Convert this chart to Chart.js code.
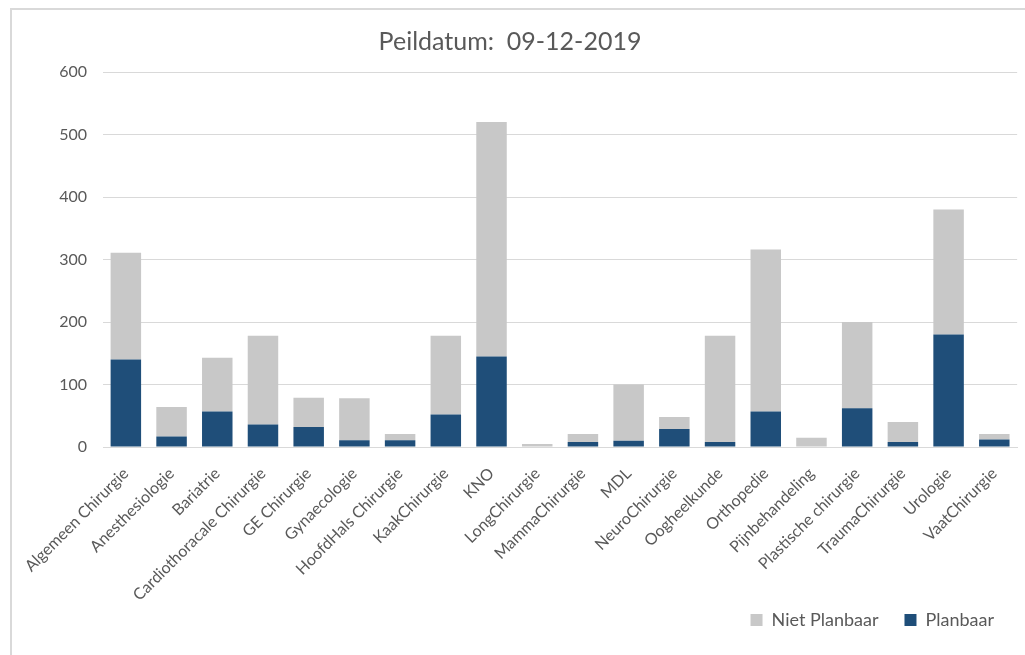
<!DOCTYPE html>
<html>
<head>
<meta charset="utf-8">
<script src="https://cdn.jsdelivr.net/npm/chart.js@4.4.1/dist/chart.umd.min.js"></script>
<style>
  html, body { margin: 0; padding: 0; background: #fff; overflow: hidden; }
  #wrap { position: relative; width: 1025px; height: 655px; }
  #frame { position: absolute; left: 10px; top: 8px; width: 1040px; height: 680px; border: 2px solid #d9d9d9; box-sizing: border-box; }
  canvas { position: absolute; left: 0; top: 0; }
</style>
</head>
<body>
<div id="wrap">
  <div id="frame"></div>
  <canvas id="peilChart" width="1025" height="655"></canvas>
</div>
<script>
// Specialismen op de x-as
const specialismen = [
  "Algemeen Chirurgie", "Anesthesiologie", "Bariatrie", "Cardiothoracale Chirurgie",
  "GE Chirurgie", "Gynaecologie", "HoofdHals Chirurgie", "KaakChirurgie", "KNO",
  "LongChirurgie", "MammaChirurgie", "MDL", "NeuroChirurgie", "Oogheelkunde",
  "Orthopedie", "Pijnbehandeling", "Plastische chirurgie", "TraumaChirurgie",
  "Urologie", "VaatChirurgie"
];

// Aantallen
const planbaar = [140, 17, 57, 36, 32, 11, 11, 52, 145, 0, 8, 10, 29, 8, 57, 0, 62, 8, 180, 12];
const nietPlanbaar = [171, 47, 86, 142, 47, 67, 10, 126, 375, 5, 13, 90, 19, 170, 259, 15, 138, 32, 200, 9];

const yTicks = [0, 100, 200, 300, 400, 500, 600];

const textColor = "#595959";
const fontFamily = "Lato, 'Open Sans', sans-serif";

const ctx = document.getElementById("peilChart").getContext("2d");
new Chart(ctx, {
  type: "bar",
  data: {
    labels: specialismen,
    datasets: [
      {
        label: "Planbaar",
        data: planbaar,
        backgroundColor: "#1F4E79",
        barPercentage: 0.667,
        categoryPercentage: 1.0,
      },
      {
        label: "Niet Planbaar",
        data: nietPlanbaar,
        backgroundColor: "#C8C8C8",
        barPercentage: 0.667,
        categoryPercentage: 1.0,
      }
    ]
  },
  options: {
    responsive: false,
    animation: false,
    layout: { padding: { left: 0, right: 5, top: 0, bottom: 16 } },
    plugins: {
      title: {
        display: true,
        text: "Peildatum:  09-12-2019",
        color: textColor,
        font: { family: fontFamily, size: 25, weight: "normal" },
        padding: { top: 27, bottom: 15 }
      },
      legend: {
        position: "bottom",
        align: "end",
        reverse: true,
        labels: {
          color: textColor,
          font: { family: fontFamily, size: 18 },
          boxWidth: 12,
          boxHeight: 12,
          padding: 26
        }
      },
      tooltip: { enabled: false }
    },
    scales: {
      x: {
        stacked: true,
        grid: { display: false, drawTicks: false },
        border: { color: "#d9d9d9" },
        ticks: {
          color: textColor,
          font: { family: fontFamily, size: 16 },
          minRotation: 45,
          maxRotation: 45,
          autoSkip: false,
          padding: 17
        },
        afterFit: (scale) => {
          scale.height = 138;
          // long rotated labels run into the legend area, so don't clip them
          scale._computeLabelArea = () => undefined;
        }
      },
      y: {
        stacked: true,
        min: 0,
        max: 600,
        afterBuildTicks: (scale) => { scale.ticks = yTicks.map(v => ({ value: v })); },
        grid: { color: "#d9d9d9", drawTicks: false },
        border: { display: false },
        ticks: {
          color: textColor,
          font: { family: fontFamily, size: 16 },
          padding: 16
        },
        afterFit: (scale) => { scale.width = 103; }
      }
    }
  }
});
</script>
</body>
</html>
